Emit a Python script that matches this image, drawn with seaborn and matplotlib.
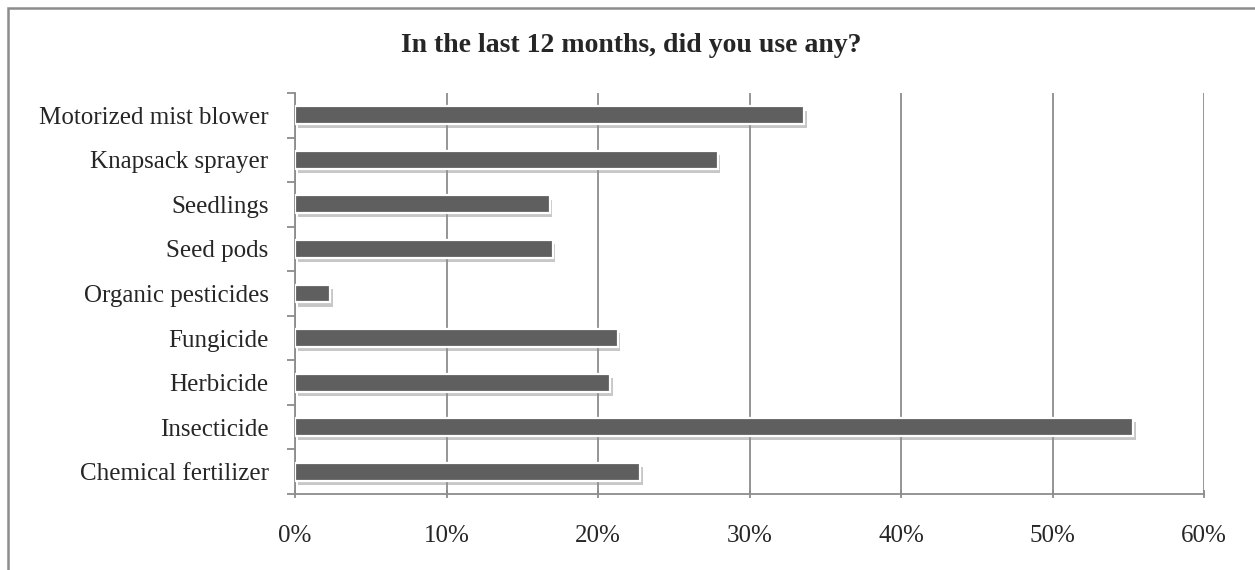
import matplotlib
matplotlib.use("Agg")
import matplotlib.pyplot as plt
import matplotlib.patheffects as pe
from matplotlib.patches import Rectangle
from matplotlib.ticker import PercentFormatter, FixedLocator
import seaborn as sns

# values (percent of respondents)
categories = ["Motorized mist blower", "Knapsack sprayer", "Seedlings", "Seed pods",
              "Organic pesticides", "Fungicide", "Herbicide", "Insecticide",
              "Chemical fertilizer"]
values = [33.6, 27.9, 16.8, 17.0, 2.3, 21.3, 20.8, 55.3, 22.8]
xticks = [0, 10, 20, 30, 40, 50, 60]
title = "In the last 12 months, did you use any?"

sns.set_style("white")
plt.rcParams["font.family"] = ["Liberation Serif", "DejaVu Serif"]

fig = plt.figure(figsize=(12.55, 5.7), dpi=100)
ax = fig.add_axes([295 / 1255, 1 - 494 / 570, (1204 - 295) / 1255, (494 - 93) / 570])

sns.barplot(x=values, y=categories, orient="h", color="#5f5f5f", saturation=1,
            width=0.4, edgecolor="white", linewidth=1.6, ax=ax, zorder=3)
for bar in ax.patches:
    bar.set_path_effects([pe.SimplePatchShadow(offset=(2, -3), shadow_rgbFace="#909090", alpha=0.5),
                          pe.Normal()])

ax.set_xlim(0, 60)
ax.set_ylim(len(categories) - 0.5, -0.5)
ax.set_xticks(xticks)
ax.xaxis.set_major_formatter(PercentFormatter(decimals=0))
ax.grid(axis="x", color="#8c8c8c", linewidth=1.3, zorder=0)
ax.set_axisbelow(True)

# y: labels at centres, tick marks at the category boundaries
ax.yaxis.set_minor_locator(FixedLocator([i - 0.5 for i in range(len(categories) + 1)]))
ax.tick_params(axis="y", which="major", length=0, pad=19, labelsize=18)
ax.tick_params(axis="y", which="minor", left=True, length=6, width=1.3, color="#8c8c8c")
ax.tick_params(axis="x", which="major", bottom=True, length=6, width=1.3, color="#8c8c8c",
               pad=19, labelsize=18, direction="inout")

for side in ["top", "right"]:
    ax.spines[side].set_visible(False)
for side in ["left", "bottom"]:
    ax.spines[side].set_color("#8c8c8c")
    ax.spines[side].set_linewidth(1.3)
ax.set_xlabel("")
ax.set_ylabel("")

fig.text(631 / 1255, 1 - 46 / 570, title, ha="center", va="center", fontsize=20, fontweight="bold")

# outer chart frame (runs off the right and bottom edges)
fig.patches.append(Rectangle((8 / 1255, -0.05), 1.1, 1 - 8 / 570 + 0.05, transform=fig.transFigure,
                             fill=False, edgecolor="#8c8c8c", linewidth=1.8))

fig.savefig("out.png", dpi=100)
